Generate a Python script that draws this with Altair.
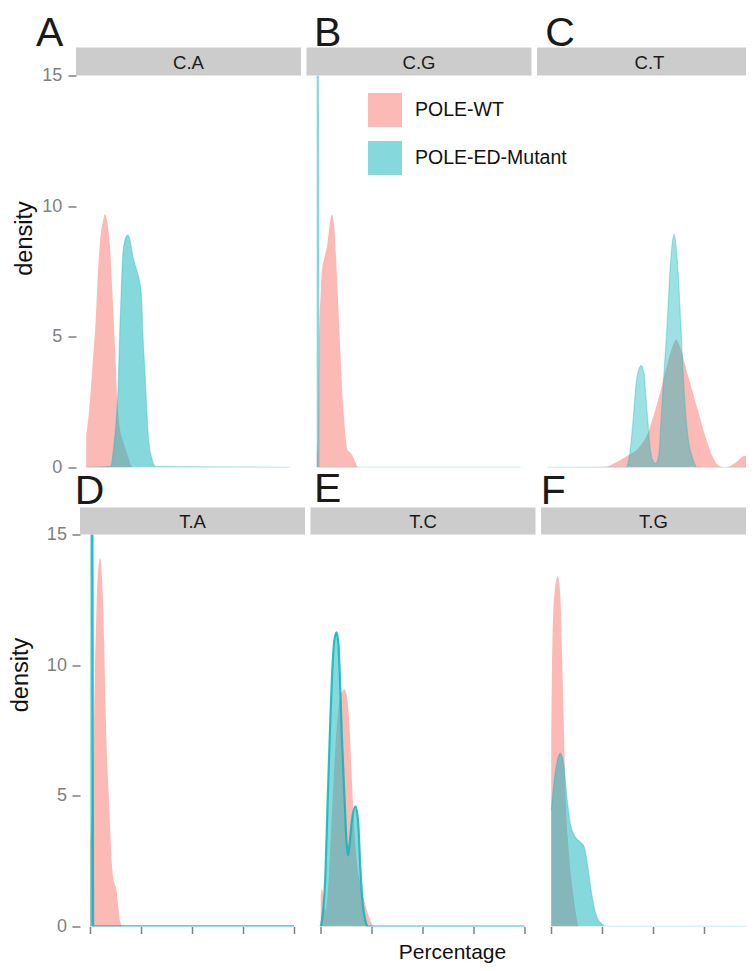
import altair as alt
import pandas as pd

WT = "POLE-WT"
MUT = "POLE-ED-Mutant"

# ---------------- data (x = Percentage, y = density) ----
CA_WT_X = [0, 1.4, 3.0, 4.7, 5.9, 7.1, 8.2, 9.2, 10.3, 11.7, 12.9, 14.2, 15.3, 16.5, 18.1, 20.2, 21.9, 23.5, 100]
CA_WT_Y = [1.25, 2.15, 3.8, 5.7, 7.65, 8.9, 9.4, 9.7, 9.4, 8.4, 6.6, 4.45, 2.5, 1.5, 1.0, 0.5, 0.1, 0, 0]
CA_MUT_X = [0, 12.0, 13.6, 14.8, 15.7, 16.4, 17.1, 18.0, 19.4, 20.3, 21.5, 22.6, 23.8, 25.0, 26.2, 27.2, 27.8, 28.7, 29.5, 30.4, 32.1, 34.1, 100]
CA_MUT_Y = [0, 0.04, 0.87, 1.9, 3.2, 5.1, 6.6, 8.2, 8.8, 8.9, 8.7, 8.2, 7.8, 7.5, 7.1, 6.4, 5.1, 3.8, 2.5, 1.25, 0.36, 0.04, 0]

CG_WT_X = [0, 0.6, 1.1, 2.0, 2.7, 3.6, 5.2, 6.4, 7.4, 8.5, 9.3, 10.1, 11.0, 11.8, 12.6, 13.4, 14.2, 15.0, 16.2, 17.5, 18.8, 19.9, 21.0, 100]
CG_WT_Y = [0.5, 1.25, 4.45, 6.75, 7.65, 7.97, 8.54, 9.3, 9.67, 9.3, 8.29, 7.0, 5.47, 4.07, 2.79, 1.89, 1.12, 0.68, 0.59, 0.46, 0.23, 0.04, 0, 0]
CG_MUT_X = [0, 0.8, 1.2, 100]
CG_MUT_Y = [15.5, 15.5, 0, 0]

CT_WT_X = [0, 28.7, 33.6, 39.3, 45.0, 49.1, 52.4, 55.6, 58.9, 61.3, 63.3, 65.4, 67.9, 71.1, 74.4, 77.7, 80.9, 84.2, 87.5, 92.4, 96.5, 98.9, 100]
CT_WT_Y = [0, 0.03, 0.19, 0.45, 0.77, 1.28, 2.05, 2.94, 3.97, 4.6, 4.9, 4.54, 3.84, 2.94, 2.05, 1.15, 0.45, 0.06, 0, 0.19, 0.44, 0.45, 0.44]
CT_MUT_X = [0, 38.5, 40.4, 42.1, 43.4, 44.7, 46.1, 47.5, 48.3, 49.3, 50.4, 51.5, 53.2, 54.8, 55.8, 56.8, 58.9, 60.2, 62.2, 64.1, 65.4, 67.0, 69.0, 71.1, 73.5, 100]
CT_MUT_Y = [0, 0, 0.5, 1.8, 3.07, 3.7, 3.9, 3.58, 2.8, 1.8, 0.77, 0.32, 0.15, 0.5, 1.8, 3.07, 5.63, 7.55, 8.93, 7.55, 5.63, 3.07, 1.15, 0.4, 0, 0]

TA_WT_X = [0, 1.5, 2.35, 3.2, 4.8, 6.3, 7.1, 7.9, 9.2, 10.8, 11.7, 12.8, 13.8, 15.0, 15.8, 100]
TA_WT_Y = [3.0, 6.5, 9.9, 12.4, 14.1, 12.4, 9.9, 7.3, 4.82, 2.2, 1.7, 1.45, 0.69, 0.1, 0, 0]
TA_MUT_X = [0, 1.0, 1.4, 100]
TA_MUT_Y = [15.5, 15.5, 0, 0]

TC_WT_X = [0, 0.6, 1.5, 2.3, 3.9, 5.5, 7.2, 8.8, 10.4, 11.6, 12.9, 14.2, 15.3, 16.5, 17.8, 19.4, 21.1, 22.7, 24.4, 26.0, 100]
TC_WT_Y = [1.2, 1.44, 1.0, 0.6, 1.76, 4.3, 6.86, 8.39, 8.97, 9.07, 8.78, 7.5, 5.59, 3.67, 2.4, 1.63, 1.07, 0.6, 0.23, 0, 0]
TC_MUT_X = [0, 0.6, 2.3, 3.4, 4.75, 5.5, 6.6, 7.7, 8.7, 9.3, 10.4, 11.8, 12.7, 13.4, 14.2, 15.3, 17.0, 18.3, 19.5, 20.6, 21.9, 23.0, 100]
TC_MUT_Y = [0, 0.23, 2.0, 4.8, 8.0, 9.5, 10.9, 11.26, 10.8, 9.8, 7.24, 4.7, 3.2, 2.72, 3.2, 4.06, 4.6, 4.06, 2.14, 0.87, 0.23, 0, 0]

TG_WT_X = [0, 0.4, 1.2, 3.2, 4.5, 5.3, 6.1, 6.9, 8.1, 9.4, 11.0, 12.4, 13.5, 100]
TG_WT_Y = [7.2, 9.8, 12.35, 13.4, 12.6, 10.45, 7.9, 5.33, 3.42, 2.14, 1.12, 0.36, 0, 0]
TG_MUT_X = [0, 2.1, 4.5, 6.1, 7.7, 9.4, 11.8, 14.3, 16.2, 17.5, 19.1, 20.7, 22.4, 24.8, 27.2, 100]
TG_MUT_Y = [4.44, 5.97, 6.63, 6.23, 4.95, 3.93, 3.42, 3.23, 3.04, 2.53, 1.63, 0.87, 0.36, 0.1, 0, 0]

STRIPS = ["C.A", "C.G", "C.T", "T.A", "T.C", "T.G"]
LETTERS = ["A", "B", "C", "D", "E", "F"]
Y_TICKS = [0, 5, 10, 15]
X_TICKS = [0, 25, 50, 75, 100]

# ---------------- layout / style constants ----------------
PX = 2.04              # pixels per percentage unit
H = 392
WIDTHS = [225, 225, 209, 225, 225, 209]
SHIFT = [0, 0, 0, 4, 4, 4]            # bottom row sits 4px further right
LETTER_POS = [(-40, -29.5), (7.5, -29.5), (8.3, -29.5), (-1.3, -30.8), (7.5, -32.3), (3.7, -31)]
MUT_LINE = [(0.3, 1.3), (0.3, 1.3), (0.3, 1.3), (0.85, 2.4), (0.85, 2.2), (0.3, 1.3)]
MUT_OPACITY = [0.5, 0.5, 0.4, 0.5, 0.5, 0.5]

FONT = "Liberation Sans"
GRAY = "#7F7F7F"
PINK = "#F8766D"
TEAL = "#0BB4BC"

color = alt.Color(
    "group:N",
    scale=alt.Scale(domain=[WT, MUT], range=[PINK, TEAL]),
    legend=alt.Legend(
        title=None, orient="none", legendX=292, legendY=17.5,
        symbolType="square", symbolSize=1156, symbolStrokeWidth=0,
        symbolOpacity=0.5, labelFontSize=19.5, labelFont=FONT,
        labelColor="#111111", labelOffset=13, rowPadding=14, padding=0,
    ),
)

series = [
    (CA_WT_X, CA_WT_Y, CA_MUT_X, CA_MUT_Y),
    (CG_WT_X, CG_WT_Y, CG_MUT_X, CG_MUT_Y),
    (CT_WT_X, CT_WT_Y, CT_MUT_X, CT_MUT_Y),
    (TA_WT_X, TA_WT_Y, TA_MUT_X, TA_MUT_Y),
    (TC_WT_X, TC_WT_Y, TC_MUT_X, TC_MUT_Y),
    (TG_WT_X, TG_WT_Y, TG_MUT_X, TG_MUT_Y),
]


def make_panel(i):
    wx, wy, mx, my = series[i]
    w = WIDTHS[i]
    sh = SHIFT[i]
    row, col = divmod(i, 3)
    x0 = 10.2 + sh
    xdom = [-x0 / PX, (w - x0) / PX]

    if row == 1:
        xt = [v for v in X_TICKS if v <= xdom[1]]
        kw = dict(values=xt, labels=False, tickSize=7, tickColor=GRAY,
                  tickWidth=1.5, domain=False, grid=False)
        if col == 1:
            xaxis = alt.Axis(title="Percentage", titleFont=FONT, titleFontSize=21,
                             titleFontWeight="normal", titleColor="#111111",
                             titleX=145.5, titleY=32, titleAlign="center",
                             titleBaseline="alphabetic", **kw)
        else:
            xaxis = alt.Axis(title=None, **kw)
    else:
        xaxis = None

    if col == 0:
        yaxis = alt.Axis(values=Y_TICKS, title="density", titleFont=FONT,
                         titleFontSize=23.5, titleFontWeight="normal",
                         titleColor="#111111", titleAngle=270,
                         titleAlign="center", titleBaseline="middle",
                         titleX=(-51.7 if row == 0 else -59.2),
                         titleY=(162.5 if row == 0 else 140),
                         labelFont=FONT, labelFontSize=18, labelColor=GRAY,
                         labelPadding=(6.3 if row == 0 else 5.6),
                         tickSize=8, tickColor=GRAY, tickWidth=1.5,
                         domain=False, grid=False, offset=-sh)
    else:
        yaxis = None

    df = pd.DataFrame({
        "x": list(wx) + list(mx),
        "density": list(wy) + list(my),
        "group": [WT] * len(wx) + [MUT] * len(mx),
    })
    xenc = alt.X("x:Q", scale=alt.Scale(domain=xdom, nice=False, zero=False), axis=xaxis)
    yenc = alt.Y("density:Q", stack=None, scale=alt.Scale(domain=[0, 15], nice=False), axis=yaxis)

    base = alt.Chart(df).encode(x=xenc, y=yenc)
    pink = base.transform_filter(alt.datum.group == WT).mark_area(
        opacity=0.5, interpolate="monotone", clip=True).encode(color=color)
    teal = base.transform_filter(alt.datum.group == MUT).mark_area(
        opacity=MUT_OPACITY[i], interpolate="monotone", clip=True).encode(color=color)
    op, sw = MUT_LINE[i]
    teal_line = base.transform_filter(alt.datum.group == MUT).mark_line(
        color=TEAL, opacity=op, strokeWidth=sw, interpolate="monotone", clip=True)

    lab = pd.DataFrame({"label": [STRIPS[i]], "letter": [LETTERS[i]]})
    s_top = -28 if row == 0 else -27
    s_right = w if col == 2 else sh + 225
    strip = alt.Chart(lab).mark_rect(color="#CCCCCC").encode(
        x=alt.value(sh), x2=alt.value(s_right), y=alt.value(s_top), y2=alt.value(0))
    strip_text = alt.Chart(lab).mark_text(
        font=FONT, fontSize=18.5, color="#1A1A1A", align="center", baseline="middle"
    ).encode(x=alt.value(sh + 112.5), y=alt.value(-12.3), text="label:N")
    lx, ly = LETTER_POS[i]
    letter = alt.Chart(lab).mark_text(
        font=FONT, fontSize=41, color="#1A1A1A", align="left", baseline="alphabetic"
    ).encode(x=alt.value(lx), y=alt.value(ly), text="letter:N")

    return alt.layer(pink, teal, teal_line, strip, strip_text, letter).properties(width=w, height=H)


panels = [make_panel(i) for i in range(6)]

chart = alt.concat(
    *panels, columns=3, spacing={"row": 67, "column": 5.5}, bounds="flush"
).properties(
    padding={"left": 0, "top": 4.5, "right": 0, "bottom": 0},
    background="white",
).configure_view(stroke="transparent", strokeWidth=0)

chart.save("out.html", embed_options={"renderer": "svg", "actions": False})
